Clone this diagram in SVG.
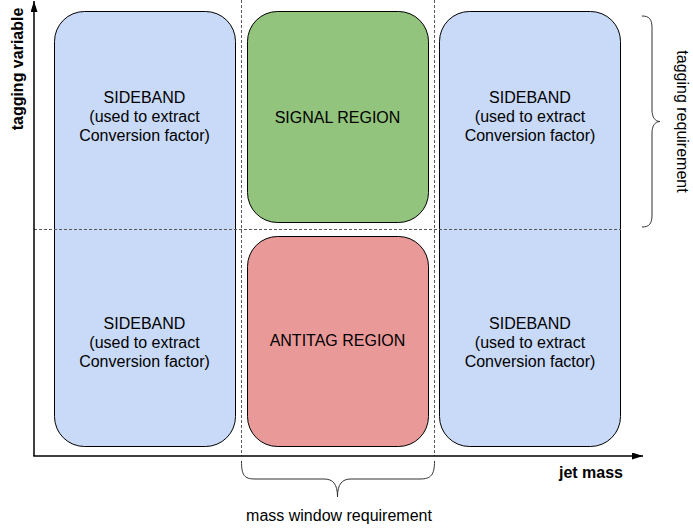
<svg xmlns="http://www.w3.org/2000/svg" width="693" height="531" viewBox="0 0 693 531">
<defs>
<marker id="arrow" viewBox="0 0 11 7" refX="11" refY="3.5" markerUnits="userSpaceOnUse" markerWidth="11" markerHeight="7" orient="auto">
<polygon points="0,0 11,3.5 0,7" fill="#000"/>
</marker>
<style>
text{font-family:"Liberation Sans",Arial,sans-serif;font-size:16px;fill:#000;}
.lbl{text-anchor:middle;}
.bold{font-weight:bold;}
.box{stroke:#000;stroke-width:1;}
.blue{fill:#c9daf8;}
.green{fill:#93c47d;}
.red{fill:#ea9999;}
.dash{stroke:#595959;stroke-width:1;stroke-dasharray:3,2;fill:none;}
.axis{stroke:#000;stroke-width:1.5;fill:none;}
.brace{stroke:#333;stroke-width:1;fill:none;}
</style>
</defs>
<rect width="693" height="531" fill="#fff"/>
<g id="sideband-left">
<rect class="box blue" x="54.5" y="11.5" width="181" height="435" rx="30" ry="30"/>
<text class="lbl" x="144.5" y="103">SIDEBAND</text>
<text class="lbl" x="144.5" y="122">(used to extract</text>
<text class="lbl" x="144.5" y="141">Conversion factor)</text>
<text class="lbl" x="144.5" y="329">SIDEBAND</text>
<text class="lbl" x="144.5" y="348">(used to extract</text>
<text class="lbl" x="144.5" y="367">Conversion factor)</text>
</g>
<g id="signal-region">
<rect class="box green" x="247.5" y="11.5" width="181" height="211" rx="30" ry="30"/>
<text class="lbl" x="337.5" y="123">SIGNAL REGION</text>
</g>
<g id="antitag-region">
<rect class="box red" x="247.5" y="236.5" width="181" height="210" rx="30" ry="30"/>
<text class="lbl" x="337.5" y="346">ANTITAG REGION</text>
</g>
<g id="sideband-right">
<rect class="box blue" x="439.5" y="11.5" width="181" height="435" rx="30" ry="30"/>
<text class="lbl" x="530" y="103">SIDEBAND</text>
<text class="lbl" x="530" y="122">(used to extract</text>
<text class="lbl" x="530" y="141">Conversion factor)</text>
<text class="lbl" x="530" y="329">SIDEBAND</text>
<text class="lbl" x="530" y="348">(used to extract</text>
<text class="lbl" x="530" y="367">Conversion factor)</text>
</g>
<g id="connectors">
<line class="dash" x1="241.5" y1="0" x2="241.5" y2="456"/>
<line class="dash" x1="434.5" y1="0" x2="434.5" y2="456"/>
<line class="dash" x1="34" y1="229.5" x2="621" y2="229.5"/>
<line class="axis" x1="34" y1="456" x2="34" y2="1" marker-end="url(#arrow)"/>
<line class="axis" x1="33.25" y1="456" x2="643" y2="456" marker-end="url(#arrow)"/>
<path class="brace" d="M241.5,461 C241.5,475 244,479 255,479 L324,479 C333,479 337.5,484 337.5,497 C337.5,484 342,479 351,479 L420,479 C431,479 434.5,475 434.5,461"/>
<path class="brace" d="M642,16 C649,16 652,19 652,28 L652,110 C652,117 655,121.5 660,121.5 C655,121.5 652,126 652,133 L652,215 C652,224 649,227 642,227"/>
</g>
<g id="labels">
<text class="lbl bold" transform="translate(23,69) rotate(-90)">tagging variable</text>
<text class="bold" x="623" y="478" text-anchor="end">jet mass</text>
<text class="lbl" transform="translate(677,121.5) rotate(90)">tagging requirement</text>
<text class="lbl" x="339" y="521">mass window requirement</text>
</g>
</svg>
